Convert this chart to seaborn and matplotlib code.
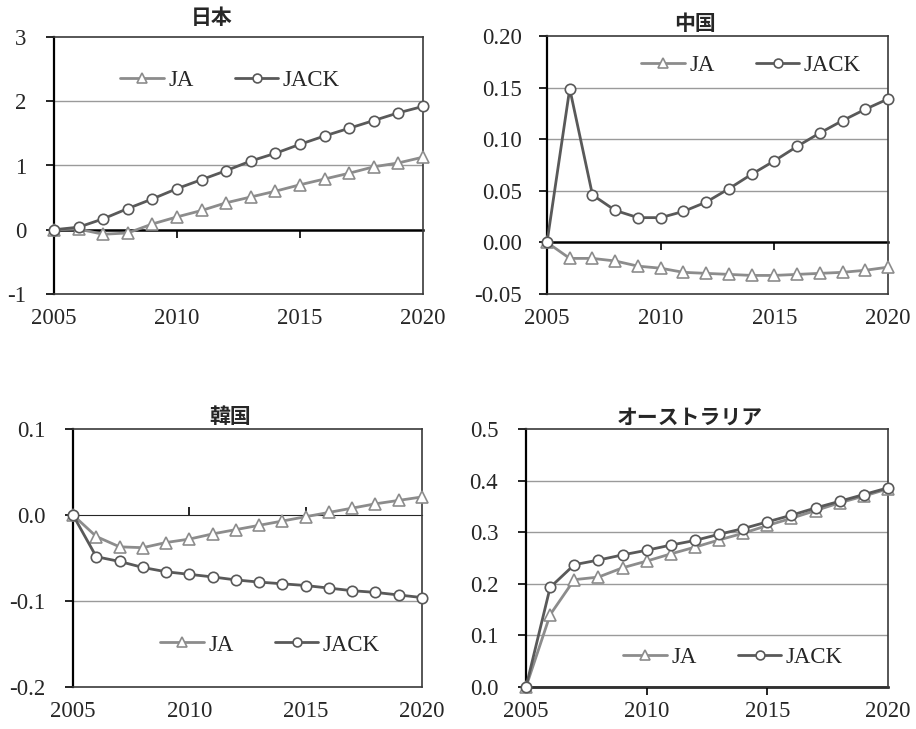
import matplotlib
matplotlib.use("Agg")
import matplotlib.pyplot as plt
import pandas as pd
import seaborn as sns

sns.set_style("white")
plt.rcParams['font.family'] = 'Liberation Serif'
SERIF = 'Liberation Serif'

years = list(range(2005, 2021))

# Japan
jp_ja = [0.00, 0.01, -0.07, -0.05, 0.09, 0.20, 0.30, 0.42, 0.51, 0.60, 0.70, 0.79, 0.88, 0.98, 1.04, 1.13]
jp_jack = [0.00, 0.04, 0.17, 0.33, 0.48, 0.64, 0.78, 0.92, 1.07, 1.19, 1.33, 1.46, 1.58, 1.70, 1.82, 1.92]
# China
cn_ja = [0.000, -0.0155, -0.0155, -0.018, -0.023, -0.025, -0.029, -0.030, -0.031, -0.032, -0.032,
         -0.031, -0.030, -0.029, -0.027, -0.024]
cn_jack = [0.000, 0.149, 0.046, 0.031, 0.024, 0.024, 0.030, 0.039, 0.052, 0.066, 0.079, 0.093,
           0.106, 0.118, 0.129, 0.139]
# Korea
kr_ja = [0.000, -0.025, -0.037, -0.038, -0.032, -0.028, -0.022, -0.017, -0.012, -0.007, -0.002,
         0.003, 0.008, 0.013, 0.017, 0.021]
kr_jack = [0.000, -0.0485, -0.054, -0.061, -0.066, -0.069, -0.072, -0.0755, -0.078, -0.080, -0.082,
           -0.085, -0.088, -0.090, -0.093, -0.096]
# Australia
au_ja = [0.000, 0.140, 0.208, 0.213, 0.231, 0.244, 0.258, 0.271, 0.285, 0.298, 0.313, 0.327,
         0.342, 0.357, 0.370, 0.384]
au_jack = [0.000, 0.193, 0.237, 0.246, 0.256, 0.265, 0.275, 0.284, 0.296, 0.307, 0.320, 0.333,
           0.347, 0.360, 0.373, 0.386]

titles = ['日本', '中国', '韓国', 'オーストラリア']
x_ticks = [2005, 2010, 2015, 2020]
y_ticks = [
    [-1, 0, 1, 2, 3],
    [-0.05, 0.00, 0.05, 0.10, 0.15, 0.20],
    [-0.2, -0.1, 0.0, 0.1],
    [0.0, 0.1, 0.2, 0.3, 0.4, 0.5],
]
y_fmt = ['{:.0f}', '{:.2f}', '{:.1f}', '{:.1f}']

JA_COLOR = '#8c8c8c'
JACK_COLOR = '#595959'

fig = plt.figure(figsize=(9.16, 7.29), dpi=100)
W, H = 916, 729

# axes boxes in pixels: left, top, right, bottom
boxes = [(54, 37, 423, 294), (547, 36, 888, 294), (73, 429, 422, 687), (526, 429, 888, 687)]
ypads = [14, 12, 14, 14]
title_pos = [(212, 17), (695, 23), (230, 417), (690, 417)]
legend_pos = [(230, 80), (751, 65), (270, 645), (733, 657)]

series = [(jp_ja, jp_jack), (cn_ja, cn_jack), (kr_ja, kr_jack), (au_ja, au_jack)]

for i in range(4):
    l, t, r, b = boxes[i]
    ax = fig.add_axes([l / W, 1 - b / H, (r - l) / W, (b - t) / H])
    ja, jack = series[i]
    df = pd.DataFrame({'year': years, 'JA': ja, 'JACK': jack})

    yt = y_ticks[i]
    ax.set_xlim(2005, 2020)
    ax.set_ylim(yt[0], yt[-1])

    # gridlines
    for v in yt[1:-1]:
        if v != 0:
            ax.axhline(v, color='#9a9a9a', lw=1.0, zorder=1)

    sns.lineplot(data=df, x='year', y='JA', ax=ax, color=JA_COLOR, lw=2.0, marker='^',
                 markersize=9, markerfacecolor='white', markeredgecolor=JA_COLOR,
                 markeredgewidth=1.2, label='JA', zorder=3, clip_on=False)
    sns.lineplot(data=df, x='year', y='JACK', ax=ax, color=JACK_COLOR, lw=2.0, marker='o',
                 markersize=7.5, markerfacecolor='white', markeredgecolor=JACK_COLOR,
                 markeredgewidth=1.2, label='JACK', zorder=4, clip_on=False)

    ax.set_xlabel('')
    ax.set_ylabel('')
    ax.set_xticks(x_ticks)
    ax.set_xticklabels([str(x) for x in x_ticks], fontfamily=SERIF, fontsize=16.5)
    ax.set_yticks(yt)
    ax.set_yticklabels([y_fmt[i].format(v) for v in yt], fontfamily=SERIF, fontsize=16.5)
    ax.tick_params(axis='x', length=0, pad=10)
    ax.tick_params(axis='y', direction='out', length=6, width=1.2, color='black',
                   left=True, pad=ypads[i])

    for s in ['top', 'right', 'bottom']:
        ax.spines[s].set_color('#3a3a3a')
        ax.spines[s].set_linewidth(1.2)
    ax.spines['left'].set_color('black')
    ax.spines['left'].set_linewidth(1.6)

    # horizontal axis crossing at zero with outward tick marks
    frac = (0 - yt[0]) / (yt[-1] - yt[0])
    sec = ax.secondary_xaxis(frac)
    sec.set_xticks(x_ticks[1:-1])
    sec.tick_params(axis='x', direction='out', length=6, width=1.2, color='black', labelbottom=False)
    sec.spines['bottom'].set_color('black')
    sec.spines['bottom'].set_linewidth(1.8)
    sec.set_xticklabels([])

    ax.legend(loc='center', bbox_to_anchor=(legend_pos[i][0] / W, 1 - legend_pos[i][1] / H),
              bbox_transform=fig.transFigure, ncol=2, frameon=False,
              prop={'family': SERIF, 'size': 16.5},
              handlelength=1.9, handletextpad=0.2, columnspacing=1.8, markerscale=0.85)

    fig.text(title_pos[i][0] / W, 1 - title_pos[i][1] / H, titles[i], ha='center', va='center',
             fontsize=15, fontweight='bold', family=['Noto Sans CJK JP', 'DejaVu Sans'])

fig.savefig('out.png', dpi=100)
